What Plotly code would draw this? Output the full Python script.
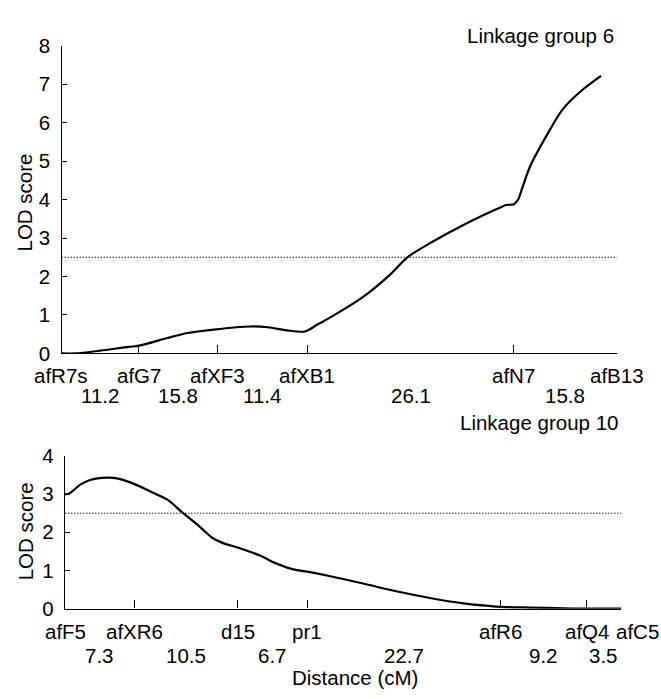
import plotly.graph_objects as go

# ---------------- Data ----------------
# Linkage group 6
lg6_markers = ["afR7s", "afG7", "afXF3", "afXB1", "afN7", "afB13"]
lg6_marker_pos = [0, 11.2, 22.5, 35.5, 65.4, 80.3]
lg6_intervals = ["11.2", "15.8", "11.4", "26.1", "15.8"]
lg6_x = [0, 2.0, 5.6, 9.7, 11.2, 15.3, 18.2, 22.0, 27.3, 29.8, 32.6, 35.2, 37.0, 38.8,
         43.6, 47.5, 50.0, 53.3, 58.1, 63.0, 64.3, 65.4, 66.0, 66.6, 67.7, 70.2, 72.5, 75.4, 78.0]
lg6_lod = [0, 0, 0.07, 0.17, 0.2, 0.4, 0.53, 0.62, 0.7, 0.68, 0.6, 0.57, 0.75, 0.93,
           1.47, 2.05, 2.5, 2.87, 3.34, 3.76, 3.86, 3.88, 4.0, 4.3, 4.85, 5.69, 6.36, 6.87, 7.22]

# Linkage group 10
lg10_markers = ["afF5", "afXR6", "d15", "pr1", "afR6", "afQ4", "afC5"]
lg10_marker_pos = [0, 7.5, 18.6, 26.1, 46.9, 56.2, 59.9]
lg10_intervals = ["7.3", "10.5", "6.7", "22.7", "9.2", "3.5"]
lg10_x = [0, 0.54, 1.6, 2.7, 4.5, 5.6, 7.3, 9.2, 11.0, 12.6, 14.5, 15.9, 16.9, 18.6, 21.0,
          22.8, 24.6, 26.1, 28.6, 32.1, 35.8, 39.3, 42.9, 45.8, 46.9, 50.1, 53.7, 56.2, 59.9]
lg10_lod = [2.99, 3.03, 3.24, 3.37, 3.43, 3.41, 3.28, 3.07, 2.86, 2.53, 2.15, 1.85, 1.73, 1.6, 1.39,
            1.18, 1.03, 0.97, 0.85, 0.66, 0.45, 0.28, 0.14, 0.07, 0.05, 0.03, 0.01, 0.0, 0.0]

threshold = 2.5

# ---------------- Figure ----------------
W, H = 661, 699
FONT = "Liberation Sans, Arial, sans-serif"
FS = 20.5

fig = go.Figure()

# threshold dotted lines
fig.add_trace(go.Scatter(x=[lg6_marker_pos[0], lg6_marker_pos[-1]], y=[threshold, threshold],
                         mode="lines", line=dict(color="#222", width=1, dash="1.5px,1.5px"),
                         xaxis="x", yaxis="y", hoverinfo="skip"))
fig.add_trace(go.Scatter(x=[lg10_marker_pos[0], lg10_marker_pos[-1]], y=[threshold, threshold],
                         mode="lines", line=dict(color="#222", width=1, dash="1.5px,1.5px"),
                         xaxis="x2", yaxis="y2", hoverinfo="skip"))

# LOD curves
fig.add_trace(go.Scatter(x=lg6_x, y=lg6_lod, mode="lines",
                         line=dict(color="black", width=2.2, shape="spline", smoothing=0.8),
                         xaxis="x", yaxis="y"))
fig.add_trace(go.Scatter(x=lg10_x, y=lg10_lod, mode="lines",
                         line=dict(color="black", width=2.2, shape="spline", smoothing=0.8),
                         xaxis="x2", yaxis="y2"))


def px_x(p):
    return p / W


def px_y(p):
    return (H - p) / H


axis_common = dict(showgrid=False, zeroline=False, showline=True, linecolor="black",
                   linewidth=1.4, ticks="inside", tickcolor="black", tickwidth=1.2,
                   fixedrange=True)

fig.update_layout(
    width=W, height=H,
    margin=dict(l=0, r=0, t=0, b=0),
    paper_bgcolor="white", plot_bgcolor="white",
    showlegend=False,
    font=dict(family=FONT, size=FS, color="black"),
    xaxis=dict(domain=[px_x(61.5), px_x(617)], range=[0, lg6_marker_pos[-1]], anchor="y",
               tickvals=lg6_marker_pos, showticklabels=False, ticklen=8, **axis_common),
    yaxis=dict(domain=[px_y(353), px_y(35)], range=[0, 8], anchor="x",
               tickvals=list(range(0, 9)), ticklen=5, ticklabelstandoff=6,
               tickfont=dict(size=FS), **axis_common),
    xaxis2=dict(domain=[px_x(65), px_x(621)], range=[0, lg10_marker_pos[-1]], anchor="y2",
                tickvals=lg10_marker_pos, showticklabels=False, ticklen=8, **axis_common),
    yaxis2=dict(domain=[px_y(617), px_y(459)], range=[0, 4], anchor="x2",
                tickvals=list(range(0, 5)), ticklen=5, ticklabelstandoff=6,
                tickfont=dict(size=FS), **axis_common),
)

ann = []
# marker names and interval labels
for i, (name, pos) in enumerate(zip(lg6_markers, lg6_marker_pos)):
    ann.append(dict(x=pos, y=0, xref="x", yref="y", text=name, showarrow=False,
                    yanchor="middle", xanchor="center", yshift=-22))
for i, lab in enumerate(lg6_intervals):
    mid = (lg6_marker_pos[i] + lg6_marker_pos[i + 1]) / 2
    ann.append(dict(x=mid, y=0, xref="x", yref="y", text=lab, showarrow=False,
                    yanchor="middle", xanchor="center", yshift=-42))
for i, (name, pos) in enumerate(zip(lg10_markers, lg10_marker_pos)):
    xs = 16 if i == len(lg10_markers) - 1 else 0
    ann.append(dict(x=pos, y=0, xref="x2", yref="y2", text=name, showarrow=False,
                    yanchor="middle", xanchor="center", yshift=-23, xshift=xs))
for i, lab in enumerate(lg10_intervals):
    mid = (lg10_marker_pos[i] + lg10_marker_pos[i + 1]) / 2
    ann.append(dict(x=mid, y=0, xref="x2", yref="y2", text=lab, showarrow=False,
                    yanchor="middle", xanchor="center", yshift=-47))

# titles
ann.append(dict(x=px_x(540), y=px_y(24), xref="paper", yref="paper", text="Linkage group 6",
                showarrow=False, xanchor="center", yanchor="middle"))
ann.append(dict(x=px_x(539), y=px_y(424), xref="paper", yref="paper", text="Linkage group 10",
                showarrow=False, xanchor="center", yanchor="middle"))
ann.append(dict(x=px_x(25), y=px_y(197), xref="paper", yref="paper", text="LOD score",
                showarrow=False, textangle=-90, xanchor="center", yanchor="middle"))
ann.append(dict(x=px_x(25), y=px_y(537), xref="paper", yref="paper", text="LOD score",
                showarrow=False, textangle=-90, xanchor="center", yanchor="middle"))
ann.append(dict(x=px_x(355), y=px_y(688), xref="paper", yref="paper", text="Distance (cM)",
                showarrow=False, xanchor="center", yanchor="middle"))

fig.update_layout(annotations=ann)

fig.write_html("out.html", config={"displayModeBar": False},
               post_script="document.body.style.margin='0';document.body.style.padding='0';"
                           "document.body.style.overflow='hidden';")
